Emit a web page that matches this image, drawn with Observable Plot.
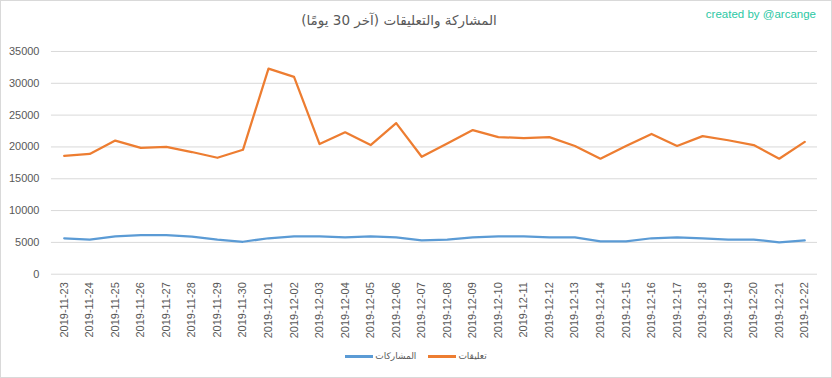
<!DOCTYPE html>
<html>
<head>
<meta charset="utf-8">
<script src="https://cdn.jsdelivr.net/npm/d3@7"></script>
<script src="https://cdn.jsdelivr.net/npm/@observablehq/plot@0.6"></script>
<style>
  html, body { margin: 0; padding: 0; background: #fff; }
  #wrap { position: relative; width: 832px; height: 378px; box-sizing: border-box; border: 1px solid #d9d9d9; background: #fff; overflow: hidden; font-family: "Liberation Sans", "DejaVu Sans", sans-serif; }
  #title { position: absolute; left: 298px; width: 200px; top: 11px; text-align: center; font-size: 13.5px; color: #595959; font-family: "DejaVu Sans", sans-serif; white-space: nowrap; }
  #credit { position: absolute; right: 15px; top: 7px; font-size: 11.5px; color: #2bc8a4; }
  #chart { position: absolute; left: -1px; top: 35px; }
  #legend { position: absolute; left: 0; width: 830px; top: 350px; display: flex; justify-content: center; gap: 12px; font-size: 9px; color: #595959; font-family: "DejaVu Sans", sans-serif; }
  .item { display: flex; align-items: center; gap: 2px; }
  .sw { width: 28px; height: 3px; }
</style>
</head>
<body>
<div id="wrap">
  <div id="title" dir="rtl">المشاركة والتعليقات (آخر 30 يومًا)</div>
  <div id="credit">created by @arcange</div>
  <div id="chart"></div>
  <div id="legend"></div>
</div>
<script>
const dates = ["2019-11-23","2019-11-24","2019-11-25","2019-11-26","2019-11-27","2019-11-28","2019-11-29","2019-11-30","2019-12-01","2019-12-02","2019-12-03","2019-12-04","2019-12-05","2019-12-06","2019-12-07","2019-12-08","2019-12-09","2019-12-10","2019-12-11","2019-12-12","2019-12-13","2019-12-14","2019-12-15","2019-12-16","2019-12-17","2019-12-18","2019-12-19","2019-12-20","2019-12-21","2019-12-22"];
const posts = [5650,5450,5950,6150,6150,5900,5450,5100,5650,5950,5950,5800,5950,5800,5300,5450,5800,5950,5950,5800,5800,5150,5150,5650,5800,5650,5450,5450,5000,5300];
const comments = [18600,18900,21000,19850,20000,19200,18300,19550,32300,31000,20450,22300,20300,23750,18450,20550,22650,21550,21400,21550,20150,18150,20150,22050,20150,21700,21050,20300,18150,20800];
const seriesNames = ["المشاركات", "تعليقات"];
const seriesColors = ["#5b9bd5", "#ed7d31"];
const yTicks = [0,5000,10000,15000,20000,25000,30000,35000];

const rows = [];
dates.forEach((d, i) => {
  rows.push({date: d, value: posts[i], series: seriesNames[0]});
  rows.push({date: d, value: comments[i], series: seriesNames[1]});
});

const chart = Plot.plot({
  width: 832,
  height: 310,
  marginLeft: 51,
  marginRight: 14,
  marginTop: 15,
  marginBottom: 72,
  style: {fontFamily: "'Liberation Sans', Arial, sans-serif", fontSize: "11px", color: "#595959", background: "transparent"},
  x: {type: "point", domain: dates, padding: 0.5, round: false, label: null},
  y: {domain: [0, 35000], label: null},
  color: {domain: seriesNames, range: seriesColors},
  marks: [
    Plot.ruleY(yTicks, {stroke: "#d9d9d9", strokeWidth: 1}),
    Plot.axisX({tickRotate: -90, tickSize: 0, tickPadding: 8, label: null, fill: "#595959"}),
    Plot.axisY({ticks: yTicks, tickSize: 0, tickPadding: 12, label: null, tickFormat: d => String(d), fill: "#595959"}),
    Plot.line(rows, {x: "date", y: "value", z: "series", stroke: "series", strokeWidth: 2.25, strokeLinejoin: "round", strokeLinecap: "round"})
  ]
});
document.getElementById("chart").appendChild(chart);

const legend = document.getElementById("legend");
seriesNames.forEach((n, i) => {
  const it = document.createElement("div");
  it.className = "item";
  const sw = document.createElement("div");
  sw.className = "sw";
  sw.style.background = seriesColors[i];
  const t = document.createElement("span");
  t.textContent = n;
  it.appendChild(sw);
  it.appendChild(t);
  legend.appendChild(it);
});
</script>
</body>
</html>
